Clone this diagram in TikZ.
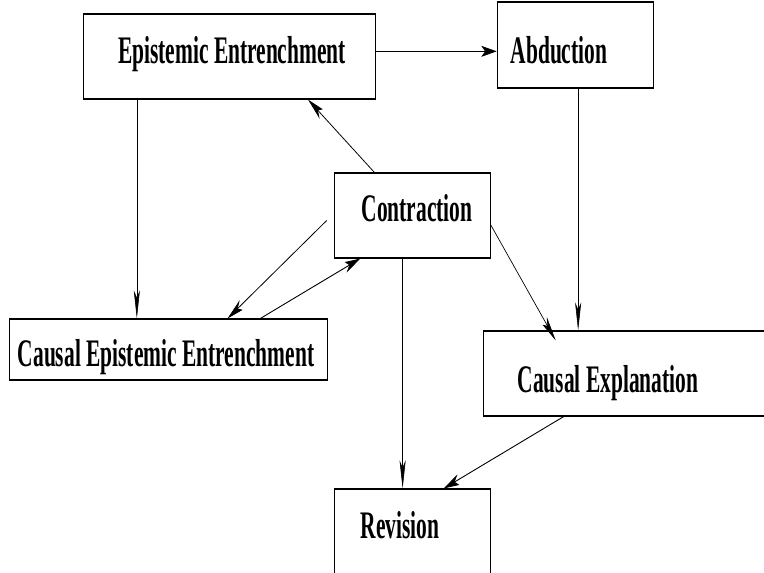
\documentclass[tikz,border=0pt]{standalone}
\usepackage{fontspec}
\setmainfont{Liberation Serif}
\usetikzlibrary{arrows.meta,calc,fit}
\tikzset{
  box/.style={draw, line width=1.1pt, inner sep=0pt},
  lbl/.style={anchor=base, inner sep=0pt, font=\bfseries\fontsize{39}{39}\selectfont},
  arr/.style={line width=1pt, -{Stealth[length=28pt,width=11pt,inset=7pt]}}
}
\begin{document}
\begin{tikzpicture}[x=1pt,y=-1pt]
  \useasboundingbox (0,0) rectangle (764,573);
  \clip (0,0) rectangle (764,573);
  % drawn tall, then squeezed sideways
  \begin{scope}[x=1.8182pt, transform canvas={xscale=0.55}]
    % boxes
    \node[box, fit={(83,14) (375,99)}] (ee) {};
    \node[box, fit={(497,2) (653,88)}] (abd) {};
    \node[box, fit={(334,173) (490,258)}] (con) {};
    \node[box, fit={(9,319) (327,380)}] (cee) {};
    \node[box, fit={(483,331) (790,416)}] (cexp) {};
    \node[box, fit={(334,489) (490,600)}] (rev) {};
    % texts
    \node[lbl] (ee-t) at (232,63) {Epistemic Entrenchment};
    \node[lbl] (abd-t) at (559,63) {Abduction};
    \node[lbl] (con-t) at (417,221) {Contraction};
    \node[lbl] (cee-t) at (166,366) {Causal Epistemic Entrenchment};
    \node[lbl] (cexp-t) at (608,392) {Causal Explanation};
    \node[lbl] (rev-t) at (400,538) {Revision};
    % arrows
    \coordinate (p1) at ($(ee.north east)!0.44!(ee.south east)$);
    \draw[arr] (p1) -- (p1 -| abd.west);
    \coordinate (p2) at ($(ee.south west)!0.185!(ee.south east)$);
    \draw[arr] (p2) -- (p2 |- cee.north);
    \draw[arr] ($(con.north west)!0.26!(con.north east)$) -- ($(ee.south west)!0.77!(ee.south east)$);
    \coordinate (con-w) at ($(con.west)+(-7,5)$);
    \draw[arr] (con-w) -- ($(cee.north west)!0.687!(cee.north east)$);
    \draw[arr] ($(cee.north west)!0.79!(cee.north east)$) -- ($(con.south west)!0.17!(con.south east)$);
    \draw[arr] ($(con.north east)!0.6!(con.south east)$) -- ($(cexp.north west)+(73,10)$);
    \coordinate (p3) at ($(abd.south west)!0.52!(abd.south east)$);
    \draw[arr] (p3) -- (p3 |- cexp.north);
    \coordinate (p4) at ($(con.south west)!0.44!(con.south east)$);
    \draw[arr] (p4) -- (p4 |- rev.north);
    \draw[arr] ($(cexp.south west)+(81,0)$) -- ($(rev.north west)+(110,0)$);
  \end{scope}
\end{tikzpicture}
\end{document}
